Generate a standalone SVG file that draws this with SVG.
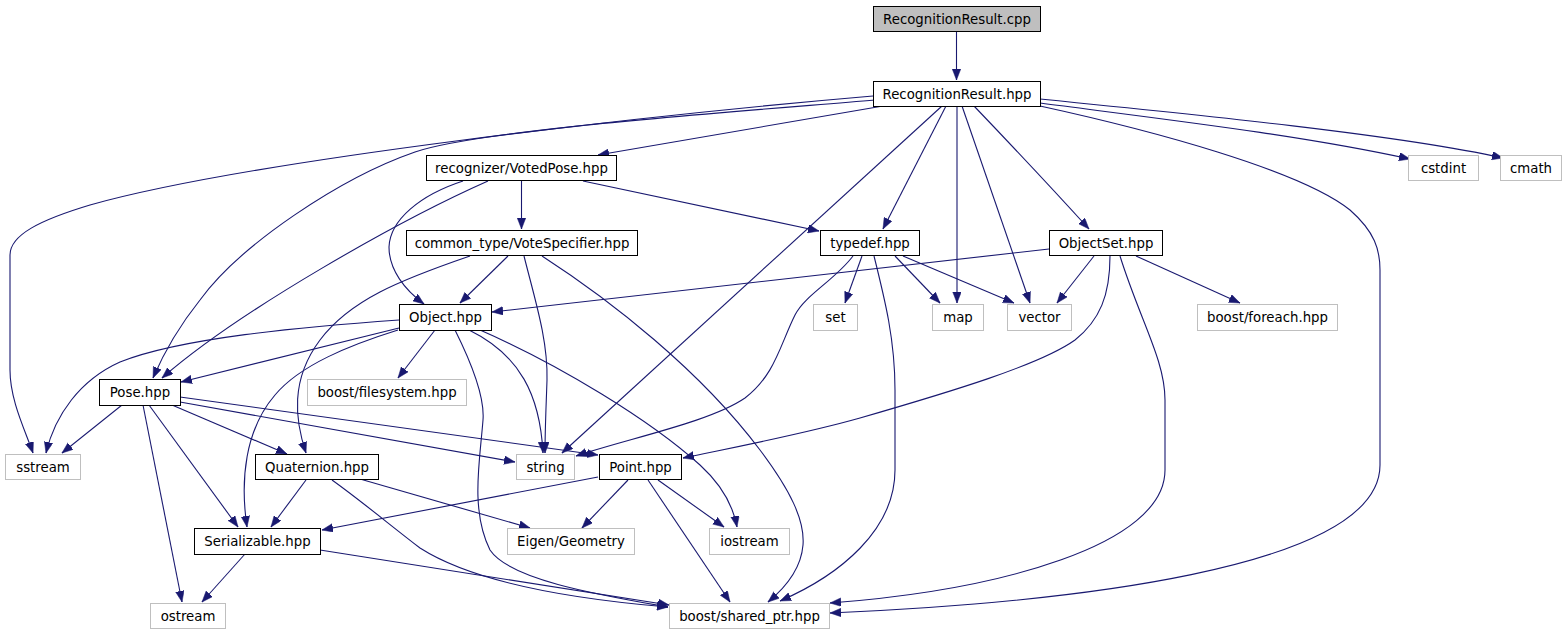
<svg xmlns="http://www.w3.org/2000/svg" width="1567" height="635" viewBox="0 0 1567 635">
<style>
.n rect{fill:#fff;stroke:#000;stroke-width:1}
.n.x rect{stroke:#bfbfbf}
.n.root rect{fill:#bfbfbf}
.n text{font-family:"DejaVu Sans","Liberation Sans",sans-serif;font-size:13.3px;text-anchor:middle;fill:#000}
#edges path{fill:none;stroke:#191970;stroke-width:1.1;marker-end:url(#ah)}
</style>
<defs>
<marker id="ah" markerUnits="userSpaceOnUse" markerWidth="12" markerHeight="9" refX="11" refY="4.25" orient="auto">
<path d="M0,0 L11,4.25 L0,8.5 z" fill="#191970" stroke="#191970" stroke-width="0.5"/>
</marker>
</defs>
<rect width="1567" height="635" fill="#fff"/>
<g id="edges">
<path d="M956.5,31 L956.5,80"/>
<path d="M873,96 C650,115 250,160 90,205 C40,220 10,235 10,255 L10,370 C10,400 25,430 33,453"/>
<path d="M875,100 C720,113 480,130 415,152 C340,178 240,245 200,300 C180,325 165,350 153,378"/>
<path d="M883,106 L598,155"/>
<path d="M942,106 L562,453"/>
<path d="M946,106 L883,229"/>
<path d="M957,106 L957,303"/>
<path d="M962,106 L1030,303"/>
<path d="M974,106 Q1040,175 1089,229"/>
<path d="M1040,106 C1150,130 1300,170 1350,210 C1375,232 1380,250 1380,270 L1380,465 C1380,570 1060,603 830,613"/>
<path d="M1040,103 C1170,120 1300,135 1410,159"/>
<path d="M1040,99 C1200,115 1400,135 1503,158"/>
<path d="M463,181 C420,195 390,220 389,247 C389,270 405,290 424,304"/>
<path d="M488,181 C400,220 240,310 162,378"/>
<path d="M521.5,181 L521.5,229"/>
<path d="M583,181 L819,231"/>
<path d="M508,256 L460,303"/>
<path d="M470,256 C400,280 350,300 320,340 C290,380 295,420 306,453"/>
<path d="M524,256 C535,300 548,340 547,380 C546,410 545,430 545,453"/>
<path d="M542,256 C610,300 700,370 760,450 C790,490 805,520 803,545 C801,570 785,588 768,602"/>
<path d="M862,256 L845,303"/>
<path d="M895,256 L940,303"/>
<path d="M903,256 L1014,303"/>
<path d="M853,256 C835,280 805,295 795,315 C780,345 775,375 745,398 C710,422 630,438 576,456"/>
<path d="M874,256 C885,300 895,340 895,390 L895,470 C895,530 840,575 780,601"/>
<path d="M1049,249 L492,312"/>
<path d="M1094,256 L1057,303"/>
<path d="M1136,256 L1240,303"/>
<path d="M1110,256 C1110,295 1100,320 1075,340 C1040,365 950,392 860,418 C800,435 730,448 683,458"/>
<path d="M1120,256 C1140,320 1165,360 1165,400 L1165,470 C1165,545 1000,590 830,603"/>
<path d="M399,320 C300,327 180,338 120,362 C80,380 55,415 46,453"/>
<path d="M399,328 L181,382"/>
<path d="M398,330 C350,345 300,365 275,395 C245,430 240,480 247,527"/>
<path d="M435,330 L398,378"/>
<path d="M455,330 C470,360 485,395 483,420 C480,460 470,510 490,550 C510,580 600,595 668,607"/>
<path d="M469,330 C520,355 540,395 543,453"/>
<path d="M480,330 C560,365 650,420 700,465 C722,485 733,505 737,527"/>
<path d="M122,405 L62,453"/>
<path d="M143,405 L182,602"/>
<path d="M149,405 L238,527"/>
<path d="M172,405 L287,454"/>
<path d="M180,402 L515,462"/>
<path d="M180,397 L598,455"/>
<path d="M306,480 L271,527"/>
<path d="M360,479 L530,528"/>
<path d="M332,480 C360,500 390,525 420,548 C470,580 560,598 668,607"/>
<path d="M598,477 L322,530"/>
<path d="M628,480 L582,528"/>
<path d="M658,480 L724,527"/>
<path d="M648,480 L730,602"/>
<path d="M245,554 L202,602"/>
<path d="M320,550 L669,605"/>
</g>
<g id="n_cpp" class="n root"><rect x="873.5" y="6.5" width="167" height="25"/><text x="957" y="23.5">RecognitionResult.cpp</text></g>
<g id="n_rrhpp" class="n"><rect x="873.5" y="81.5" width="167" height="25"/><text x="957" y="98.5">RecognitionResult.hpp</text></g>
<g id="n_votedpose" class="n"><rect x="426.5" y="155.5" width="190" height="25"/><text x="521.5" y="172.5">recognizer/VotedPose.hpp</text></g>
<g id="n_cstdint" class="n x"><rect x="1408.5" y="155.5" width="70" height="25"/><text x="1443.5" y="172.5">cstdint</text></g>
<g id="n_cmath" class="n x"><rect x="1500.5" y="155.5" width="61" height="25"/><text x="1531" y="172.5">cmath</text></g>
<g id="n_votespec" class="n"><rect x="406.5" y="230.5" width="231" height="25"/><text x="522" y="247.5">common_type/VoteSpecifier.hpp</text></g>
<g id="n_typedef" class="n"><rect x="820.5" y="230.5" width="99" height="25"/><text x="870" y="247.5">typedef.hpp</text></g>
<g id="n_objectset" class="n"><rect x="1049.5" y="230.5" width="113" height="25"/><text x="1106" y="247.5">ObjectSet.hpp</text></g>
<g id="n_object" class="n"><rect x="399.5" y="304.5" width="92" height="26"/><text x="445.5" y="322">Object.hpp</text></g>
<g id="n_set" class="n x"><rect x="813.5" y="304.5" width="44" height="26"/><text x="835.5" y="322">set</text></g>
<g id="n_map" class="n x"><rect x="932.5" y="304.5" width="51" height="26"/><text x="958" y="322">map</text></g>
<g id="n_vector" class="n x"><rect x="1007.5" y="304.5" width="64" height="26"/><text x="1039.5" y="322">vector</text></g>
<g id="n_foreach" class="n x"><rect x="1197.5" y="304.5" width="140" height="26"/><text x="1267.5" y="322">boost/foreach.hpp</text></g>
<g id="n_pose" class="n"><rect x="99.5" y="379.5" width="81" height="26"/><text x="140" y="397">Pose.hpp</text></g>
<g id="n_filesystem" class="n x"><rect x="307.5" y="379.5" width="159" height="26"/><text x="387" y="397">boost/filesystem.hpp</text></g>
<g id="n_sstream" class="n x"><rect x="5.5" y="454.5" width="75" height="25"/><text x="43" y="471.5">sstream</text></g>
<g id="n_quaternion" class="n"><rect x="255.5" y="454.5" width="123" height="25"/><text x="317" y="471.5">Quaternion.hpp</text></g>
<g id="n_string" class="n x"><rect x="516.5" y="454.5" width="58" height="25"/><text x="545.5" y="471.5">string</text></g>
<g id="n_point" class="n"><rect x="599.5" y="454.5" width="82" height="25"/><text x="640.5" y="471.5">Point.hpp</text></g>
<g id="n_serializable" class="n"><rect x="194.5" y="528.5" width="126" height="26"/><text x="257.5" y="546">Serializable.hpp</text></g>
<g id="n_eigen" class="n x"><rect x="507.5" y="528.5" width="127" height="26"/><text x="571" y="546">Eigen/Geometry</text></g>
<g id="n_iostream" class="n x"><rect x="709.5" y="528.5" width="80" height="26"/><text x="749.5" y="546">iostream</text></g>
<g id="n_ostream" class="n x"><rect x="150.5" y="603.5" width="75" height="25"/><text x="188" y="620.5">ostream</text></g>
<g id="n_sharedptr" class="n x"><rect x="669.5" y="603.5" width="160" height="25"/><text x="749.5" y="620.5">boost/shared_ptr.hpp</text></g>
</svg>
